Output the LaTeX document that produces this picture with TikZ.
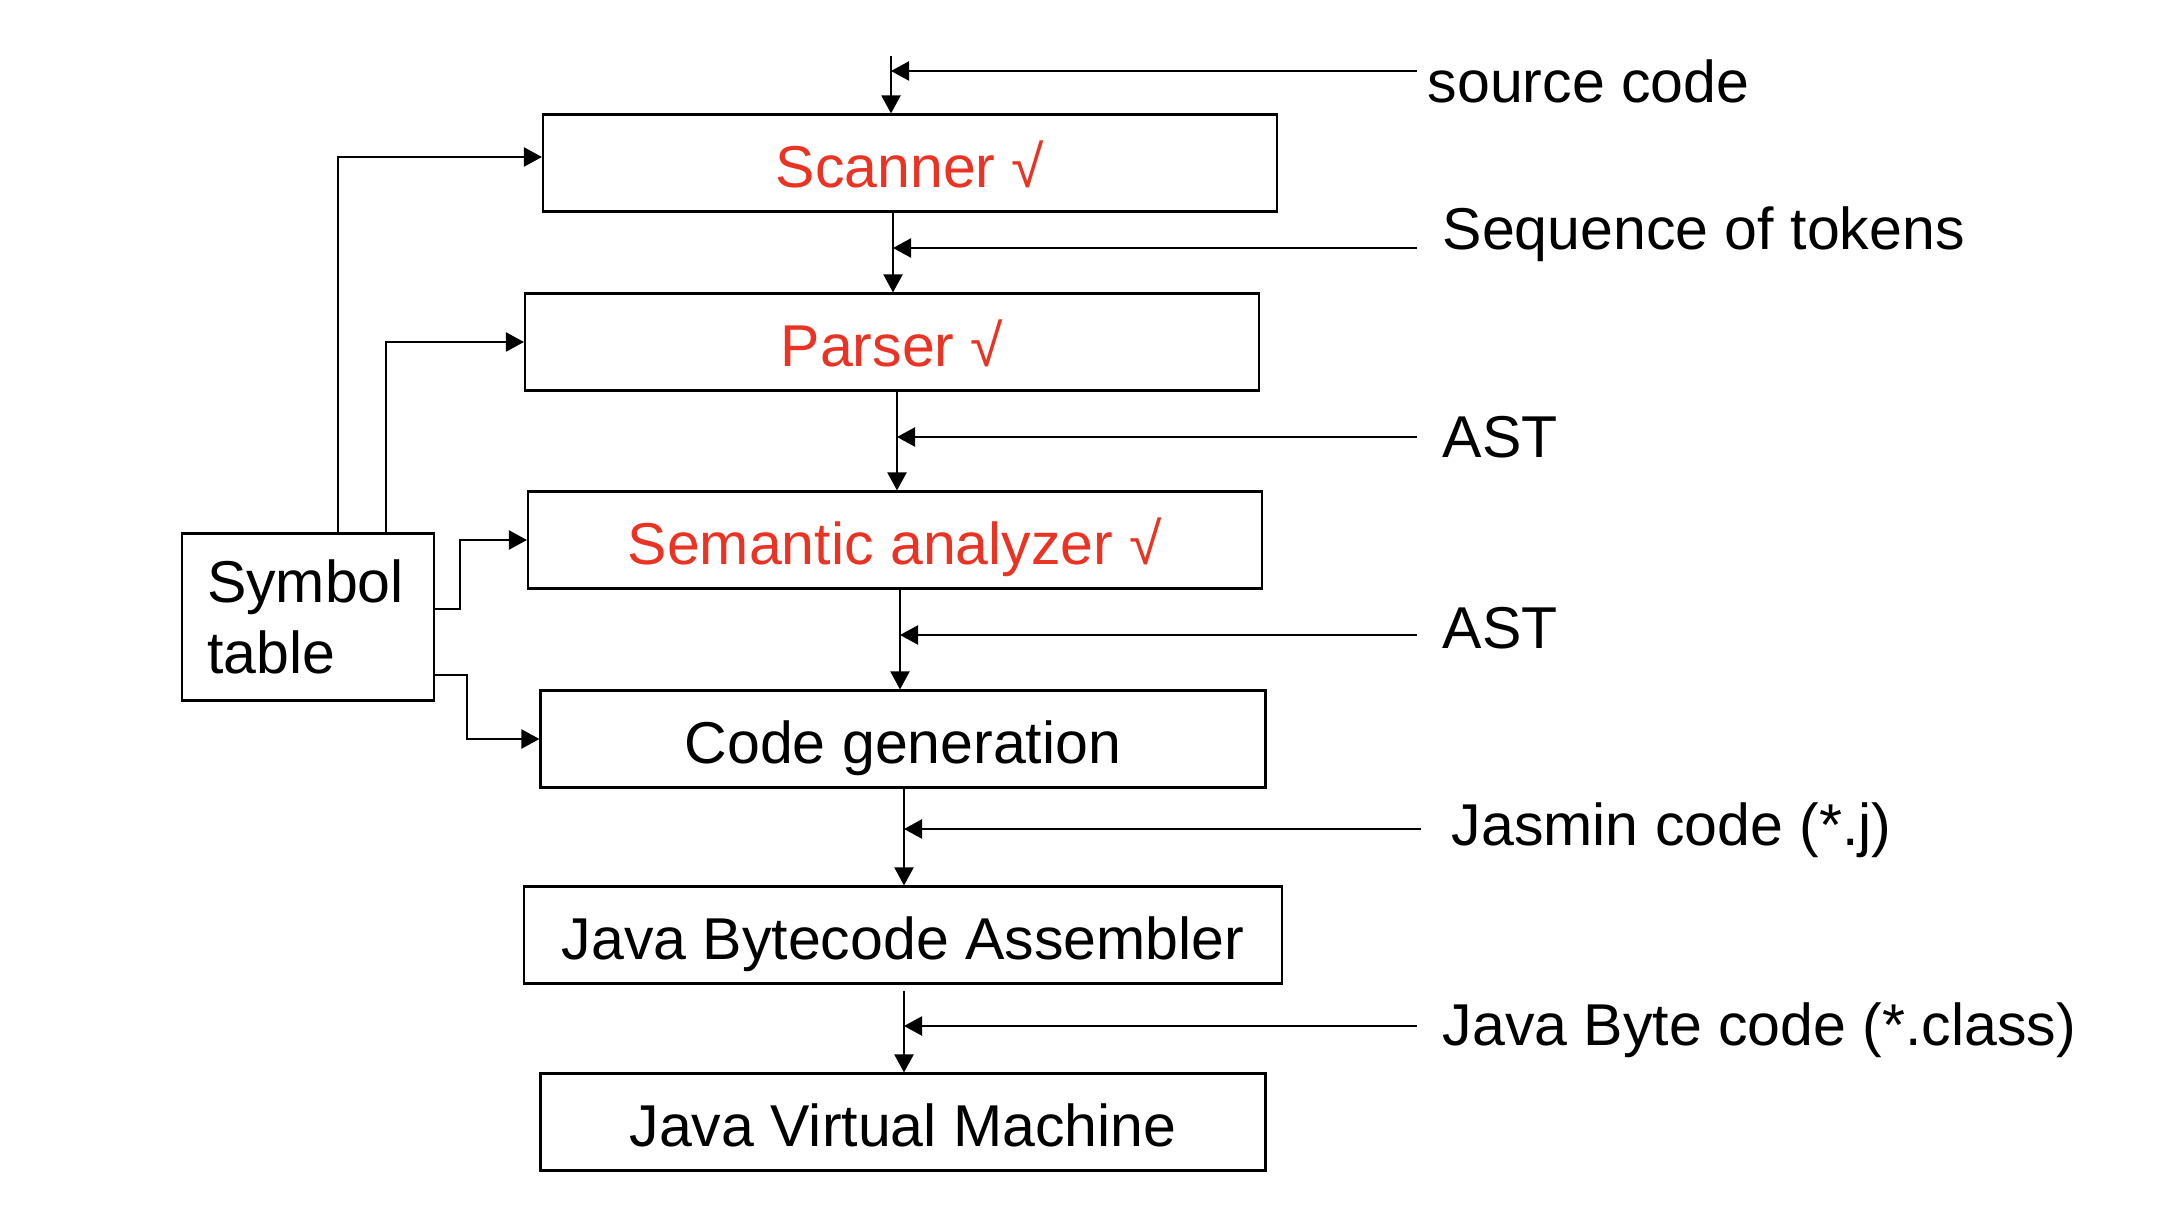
\documentclass[tikz,border=0pt]{standalone}
\usepackage{fontspec}
\setmainfont{Liberation Sans}
\usetikzlibrary{arrows.meta}
\definecolor{phasered}{RGB}{234,51,35}
\tikzset{
  phase/.style={draw, line width=0.6pt, minimum height=0.97cm, inner sep=0pt, text height=0.49cm, text depth=0pt, font=\fontsize{16.8}{20}\selectfont},
  done/.style={text=phasered},
  lbl/.style={anchor=west, inner sep=0pt, font=\fontsize{16.8}{20}\selectfont},
  flow/.style={line width=0.6pt, -{Triangle[length=0.18cm,width=0.19cm]}}
}

\begin{document}
\begin{tikzpicture}
\useasboundingbox (0,0) rectangle (21.84,12.2);
% compiler phases
\node[phase, done, minimum width=7.34cm] (scanner) at (9.10,10.57) {Scanner √};
\node[phase, done, minimum width=7.34cm] (parser) at (8.92,8.78) {Parser √};
\node[phase, done, minimum width=7.34cm] (semantic) at (8.95,6.80) {Semantic analyzer √};
\node[phase, minimum width=7.25cm] (codegen) at (9.03,4.81) {Code generation};
\node[phase, minimum width=7.58cm] (assembler) at (9.03,2.85) {Java Bytecode Assembler};
\node[phase, minimum width=7.25cm] (jvm) at (9.03,0.98) {Java Virtual Machine};
\node[draw, line width=0.6pt, minimum height=1.67cm, text width=2.02cm, inner xsep=0.25cm, align=left, font=\fontsize{16.8}{20.2}\selectfont] (symtab) at (3.08,6.03) {Symbol\\table};

% what flows between the phases
\node[lbl] (srclbl) at (14.27,11.39) {source code};
\node[lbl] (toklbl) at (14.42,9.86) {Sequence of tokens};
\node[lbl] (astlbl) at (14.42,7.83) {AST};
\node[lbl] (astlblb) at (14.42,5.92) {AST};
\node[lbl] (jlbl) at (14.51,3.90) {Jasmin code (*.j)};
\node[lbl] (classlbl) at (14.42,1.90) {Java Byte code (*.class)};

\coordinate (src) at (8.91,11.64);
\coordinate (c1) at (8.93,0);
\coordinate (c2) at (8.97,0);
\coordinate (c3) at (9.00,0);
\coordinate (c4) at (9.04,0);
\draw[flow] (src) -- (src |- scanner.north);
\draw[flow] (scanner.south -| c1) -- (parser.north -| c1);
\draw[flow] (parser.south -| c2) -- (semantic.north -| c2);
\draw[flow] (semantic.south -| c3) -- (codegen.north -| c3);
\draw[flow] (codegen.south -| c4) -- (assembler.north -| c4);
\draw[flow] ([yshift=-0.06cm]assembler.south -| c4) -- (jvm.north -| c4);

\coordinate (srcR) at (14.17,11.49);
\coordinate (tokR) at (14.17,9.72);
\coordinate (astR) at (14.17,7.83);
\coordinate (astRb) at (14.17,5.85);
\coordinate (jR) at (14.21,3.91);
\coordinate (classR) at (14.17,1.94);
\draw[flow] (srcR) -- (srcR -| src);
\draw[flow] (tokR) -- (tokR -| c1);
\draw[flow] (astR) -- (astR -| c2);
\draw[flow] (astRb) -- (astRb -| c3);
\draw[flow] (jR) -- (jR -| c4);
\draw[flow] (classR) -- (classR -| c4);

% symbol table links
\coordinate (s1) at (3.38,10.63);
\coordinate (s2) at (3.86,0);
\coordinate (s3) at (4.60,6.11);
\coordinate (s4) at (4.67,5.45);
\draw[flow] (symtab.north -| s1) -- (s1) -- (s1 -| scanner.west);
\draw[flow] (symtab.north -| s2) |- (parser.west);
\draw[flow] (symtab.east |- s3) -- (s3) |- (semantic.west);
\draw[flow] (symtab.east |- s4) -- (s4) |- (codegen.west);
\end{tikzpicture}
\end{document}
